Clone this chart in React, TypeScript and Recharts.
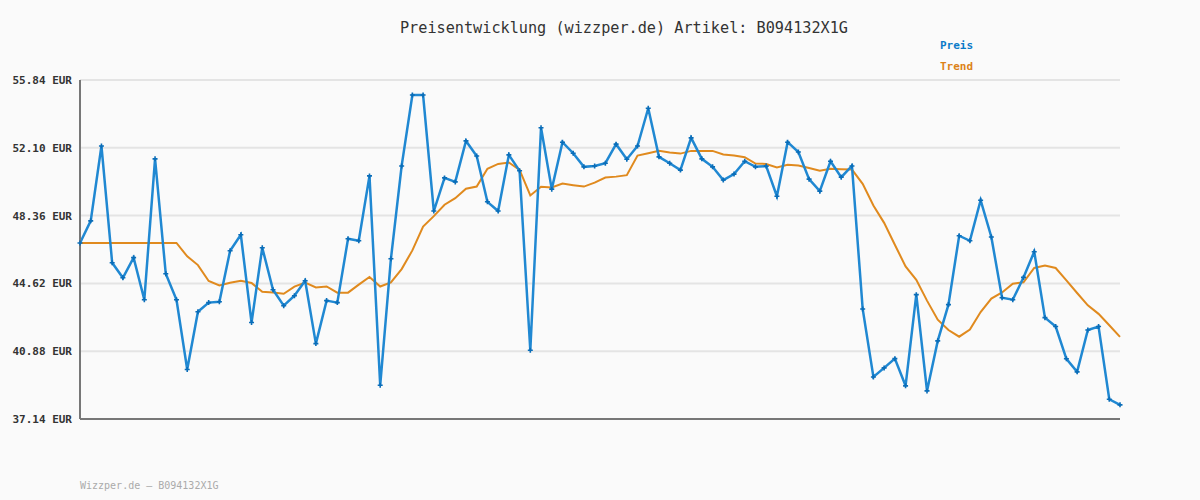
import { LineChart, Line, XAxis, YAxis, CartesianGrid } from "recharts";

const preis = [
  46.85, 48.07, 52.2, 45.76, 44.93, 46.04, 43.72, 51.49, 45.15, 43.72,
  39.87, 43.06, 43.56, 43.61, 46.42, 47.3, 42.46, 46.59, 44.27, 43.39,
  43.94, 44.77, 41.3, 43.67, 43.56, 47.08, 46.97, 50.55, 39.0, 45.98,
  51.1, 55.01, 55.01, 48.61, 50.44, 50.22, 52.48, 51.65, 49.12, 48.61,
  51.71, 50.83, 40.93, 53.21, 49.82, 52.41, 51.8, 51.05, 51.1, 51.25,
  52.3, 51.47, 52.2, 54.28, 51.6, 51.25, 50.87, 52.65, 51.49, 51.05,
  50.32, 50.65, 51.36, 51.05, 51.09, 49.43, 52.41, 51.87, 50.37, 49.71,
  51.36, 50.48, 51.1, 43.21, 39.46, 39.96, 40.47, 38.97, 44.0, 38.69,
  41.45, 43.45, 47.25, 46.97, 49.21, 47.18, 43.83, 43.72, 44.95, 46.37,
  42.73, 42.24, 40.46, 39.74, 42.05, 42.24, 38.23, 37.92,
];

const trend = [
  46.85, 46.85, 46.85, 46.85, 46.85, 46.85, 46.85, 46.85, 46.85, 46.85,
  46.11, 45.63, 44.75, 44.51, 44.66, 44.77, 44.64, 44.16, 44.12, 44.05,
  44.44, 44.66, 44.4, 44.45, 44.11, 44.11, 44.55, 44.97, 44.45, 44.68,
  45.41, 46.44, 47.76, 48.33, 48.96, 49.32, 49.84, 49.96, 50.94, 51.21,
  51.29, 50.88, 49.47, 49.95, 49.91, 50.13, 50.04, 49.96, 50.18, 50.46,
  50.51, 50.59, 51.67, 51.8, 51.93, 51.84, 51.78, 51.93, 51.93, 51.93,
  51.73, 51.67, 51.58, 51.23, 51.21, 51.02, 51.16, 51.12, 50.99, 50.84,
  50.95, 50.92, 50.9, 50.11, 48.92, 47.96, 46.75, 45.56, 44.82, 43.67,
  42.62, 42.05, 41.68, 42.07, 43.04, 43.78, 44.12, 44.6, 44.68, 45.47,
  45.61, 45.47, 44.79, 44.09, 43.41, 42.94, 42.31, 41.67,
];

const yTicks = [37.14, 40.88, 44.62, 48.36, 52.1, 55.84];

const data = preis.map((p, i) => ({ i, preis: p, trend: trend[i] }));

const mono = "'DejaVu Sans Mono', 'Liberation Mono', monospace";

function Marker(props: any) {
  const { cx, cy } = props;
  if (cx == null || cy == null) return null;
  return (
    <path
      key={`m-${props.index}`}
      d={`M${cx - 2.5},${cy}L${cx + 2.5},${cy}M${cx},${cy - 2.5}L${cx},${cy + 2.5}`}
      stroke="#0a6db8"
      strokeWidth={1.6}
      fill="none"
    />
  );
}

export default function App() {
  return (
    <div style={{ position: "fixed", left: 0, top: 0, width: 1200, height: 500, background: "#fafafa", fontFamily: mono }}>
      <div style={{ position: "absolute", left: 0, width: 1248, top: 19, textAlign: "center", fontSize: 15.2, color: "#333", whiteSpace: "nowrap" }}>
        Preisentwicklung (wizzper.de) Artikel: B094132X1G
      </div>
      <div style={{ position: "absolute", left: 940, top: 39, fontSize: 11, fontWeight: "bold", color: "#0a7ac8" }}>Preis</div>
      <div style={{ position: "absolute", left: 940, top: 60, fontSize: 11, fontWeight: "bold", color: "#dc8218" }}>Trend</div>
      <div style={{ position: "absolute", left: 80, top: 480, fontSize: 10, color: "#aaa", whiteSpace: "nowrap" }}>
        Wizzper.de – B094132X1G
      </div>
      <LineChart width={1200} height={500} data={data} margin={{ top: 80, right: 80, bottom: 80, left: 0 }}>
        <CartesianGrid vertical={false} stroke="#e4e4e4" strokeWidth={2} />
        <XAxis dataKey="i" type="number" domain={[0, 97]} tick={false} tickLine={false} height={1} axisLine={{ stroke: "#777", strokeWidth: 2 }} />
        <YAxis
          width={80}
          domain={[37.14, 55.84]}
          ticks={yTicks}
          interval={0}
          tickLine={false}
          axisLine={{ stroke: "#777", strokeWidth: 2 }}
          tickFormatter={(v: number) => `${v.toFixed(2)} EUR`}
          tick={{ fontSize: 11, fontWeight: "bold", fill: "#333", fontFamily: mono }}
        />
        <Line dataKey="trend" stroke="#e08a1e" strokeWidth={2} dot={false} isAnimationActive={false} />
        <Line dataKey="preis" stroke="#2088d2" strokeWidth={2.5} dot={<Marker />} isAnimationActive={false} />
      </LineChart>
    </div>
  );
}
